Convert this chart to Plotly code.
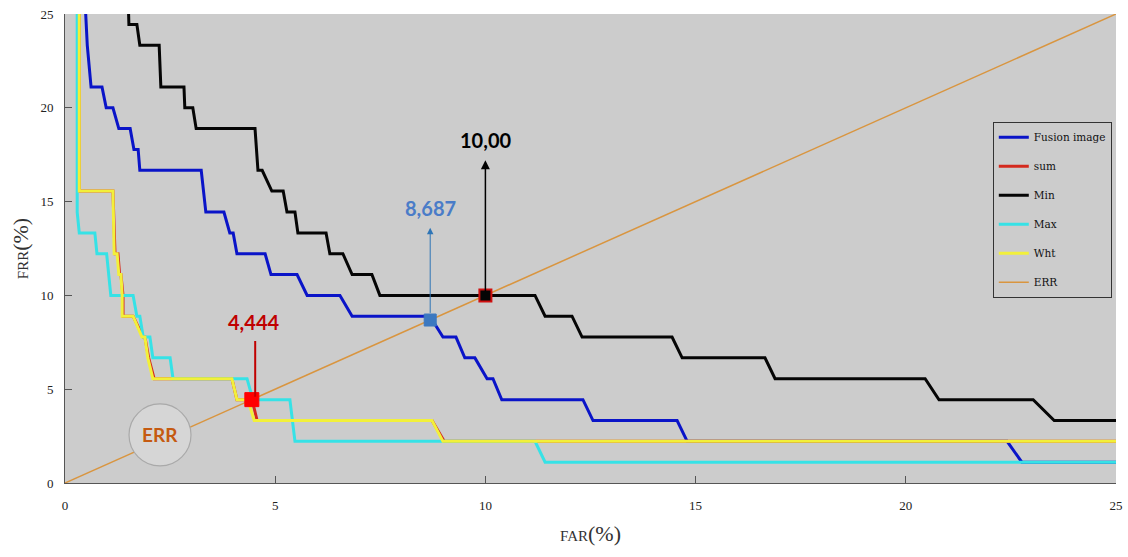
import plotly.graph_objects as go

# ---- DET curves (FAR %, FRR %) ----
fusion_far = [0.47, 0.53, 0.62, 0.88, 0.98, 1.14, 1.28, 1.55, 1.64, 1.74, 1.78, 3.24, 3.35, 3.78, 3.92, 4.0,
              4.09, 4.76, 4.90, 5.52, 5.76, 6.54, 6.83, 8.68, 8.99, 9.30, 9.51, 9.75, 10.04, 10.18, 10.39,
              12.32, 12.56, 14.56, 14.80, 22.41, 22.76, 25.0]
fusion_frr = [26.0, 23.33, 21.11, 21.11, 20.0, 20.0, 18.89, 18.89, 17.78, 17.78, 16.67, 16.67, 14.44, 14.44,
              13.33, 13.33, 12.22, 12.22, 11.11, 11.11, 10.0, 10.0, 8.89, 8.89, 7.78, 7.78, 6.67, 6.67,
              5.56, 5.56, 4.44, 4.44, 3.33, 3.33, 2.22, 2.22, 1.11, 1.11]

sum_far = [0.34, 0.34, 1.14, 1.19, 1.26, 1.30, 1.33, 1.38, 1.38, 1.62, 1.86, 1.90, 1.99, 2.12, 3.97, 4.09,
           4.45, 4.57, 8.73, 9.02, 25.0]
sum_frr = [26.0, 15.56, 15.56, 12.22, 12.22, 11.11, 11.11, 10.0, 8.89, 8.89, 7.78, 7.78, 6.67, 5.56, 5.56,
           4.44, 4.44, 3.33, 3.33, 2.22, 2.22]

min_far = [1.50, 1.52, 1.71, 1.78, 2.24, 2.28, 2.83, 2.85, 3.04, 3.12, 4.52, 4.59, 4.69, 4.92, 5.19, 5.28,
           5.47, 5.54, 6.21, 6.30, 6.61, 6.83, 7.30, 7.49, 11.18, 11.42, 12.06, 12.30, 14.44, 14.68, 16.65,
           16.89, 20.46, 20.79, 23.03, 23.53, 25.0]
min_frr = [26.0, 24.44, 24.44, 23.33, 23.33, 21.11, 21.11, 20.0, 20.0, 18.89, 18.89, 16.67, 16.67, 15.56,
           15.56, 14.44, 14.44, 13.33, 13.33, 12.22, 12.22, 11.11, 11.11, 10.0, 10.0, 8.89, 8.89, 7.78, 7.78,
           6.67, 6.67, 5.56, 5.56, 4.44, 4.44, 3.33, 3.33]

max_far = [0.29, 0.29, 0.34, 0.71, 0.76, 0.99, 1.09, 1.62, 1.71, 1.78, 1.86, 2.02, 2.09, 2.50, 2.57, 4.33,
           4.47, 5.35, 5.47, 11.18, 11.42, 25.0]
max_frr = [26.0, 14.44, 13.33, 13.33, 12.22, 12.22, 10.0, 10.0, 8.89, 8.89, 7.78, 7.78, 6.67, 6.67, 5.56,
           5.56, 4.44, 4.44, 2.22, 2.22, 1.11, 1.11]

wht_far = [0.34, 0.34, 1.14, 1.17, 1.24, 1.28, 1.33, 1.36, 1.36, 1.62, 1.83, 1.90, 1.97, 2.09, 3.97, 4.09,
           4.35, 4.50, 8.73, 8.99, 25.0]
wht_frr = [26.0, 15.56, 15.56, 12.22, 12.22, 11.11, 11.11, 10.0, 8.89, 8.89, 7.78, 7.78, 6.67, 5.56, 5.56,
           4.44, 4.44, 3.33, 3.33, 2.22, 2.22]

err_line = [0, 25]

# equal error rates marked on the chart
err_min = 10.00
err_fusion = 8.687
err_sum = 4.444
err_labels = ["10,00", "8,687", "4,444"]

x_ticks = [0, 5, 10, 15, 20, 25]
y_ticks = [0, 5, 10, 15, 20, 25]

serif = "Liberation Serif, DejaVu Serif, serif"
wide_serif = "DejaVu Serif, Liberation Serif, serif"
bold = "Lato, Open Sans, sans-serif"

fig = go.Figure()

curves = [
    ("Fusion image", fusion_far, fusion_frr, "#0A14C8", 3),
    ("sum", sum_far, sum_frr, "#D42A1E", 3),
    ("Min", min_far, min_frr, "#050505", 3),
    ("Max", max_far, max_frr, "#36E2E6", 3),
    ("Wht", wht_far, wht_frr, "#F2F03A", 3),
]
for name, xs, ys, col, w in curves:
    fig.add_trace(go.Scatter(x=xs, y=ys, mode="lines", name=name, legendgroup=name,
                             line=dict(color=col, width=w), hoverinfo="skip"))

fig.add_trace(go.Scatter(x=err_line, y=err_line, mode="lines", name="ERR", legendgroup="ERR",
                         line=dict(color="#D9953F", width=1.5), hoverinfo="skip"))

# ERR operating points
fig.add_trace(go.Scatter(x=[err_min], y=[err_min], mode="markers", showlegend=False,
                         marker=dict(symbol="square", size=12, color="#050505",
                                     line=dict(color="#D01010", width=2))))
fig.add_trace(go.Scatter(x=[err_fusion], y=[err_fusion], mode="markers", showlegend=False,
                         marker=dict(symbol="square", size=12, color="#3C78C0",
                                     line=dict(color="#3C78C0", width=1))))
fig.add_trace(go.Scatter(x=[err_sum], y=[err_sum], mode="markers", showlegend=False,
                         marker=dict(symbol="square", size=14, color="#FF0000",
                                     line=dict(color="#FF0000", width=1))))

annotations = [
    # Min
    dict(x=err_min, y=17.2, ax=err_min, ay=err_min + 0.15, xref="x", yref="y", axref="x", ayref="y",
         showarrow=True, arrowhead=2, arrowsize=1.2, arrowwidth=1.5, arrowcolor="#000000", text=""),
    dict(x=err_min, y=18.3, xref="x", yref="y", text="<b>" + err_labels[0] + "</b>", showarrow=False,
         font=dict(family=bold, size=20, color="#000000")),
    # Fusion image
    dict(x=err_fusion, y=13.6, ax=err_fusion, ay=err_fusion + 0.3, xref="x", yref="y", axref="x", ayref="y",
         showarrow=True, arrowhead=2, arrowsize=1.3, arrowwidth=1, arrowcolor="#2E75B6", text=""),
    dict(x=err_fusion, y=14.65, xref="x", yref="y", text="<b>" + err_labels[1] + "</b>", showarrow=False,
         font=dict(family=bold, size=20, color="#4A7CC8")),
    # sum / Wht
    dict(x=err_sum + 0.08, y=4.6, ax=err_sum + 0.08, ay=7.65, xref="x", yref="y", axref="x", ayref="y",
         showarrow=True, arrowhead=0, arrowwidth=2, arrowcolor="#C00000", text=""),
    dict(x=err_sum + 0.03, y=8.6, xref="x", yref="y", text="<b>" + err_labels[2] + "</b>", showarrow=False,
         font=dict(family=bold, size=20, color="#C00000")),
    # ERR badge text
    dict(x=2.26, y=2.56, xref="x", yref="y", text="<b>ERR</b>", showarrow=False,
         font=dict(family=bold, size=19, color="#C55A11")),
]

shapes = [
    dict(type="circle", xref="x", yref="y", xsizemode="pixel", ysizemode="pixel",
         xanchor=2.26, yanchor=2.56, x0=-31, x1=31, y0=-31, y1=31,
         fillcolor="#D6D6D6", line=dict(color="#A9A9A9", width=1.2), layer="above"),
]

fig.update_layout(
    width=1128, height=557,
    margin=dict(l=65, r=12, t=14, b=74),
    paper_bgcolor="#FFFFFF",
    plot_bgcolor="#CCCCCC",
    showlegend=True,
    legend=dict(x=0.996, y=0.77, xanchor="right", yanchor="top",
                bgcolor="#CCCCCC", bordercolor="#333333", borderwidth=1,
                font=dict(family=wide_serif, size=10.5, color="#111111"),
                itemwidth=30, tracegroupgap=10),
    annotations=annotations,
    shapes=shapes,
    xaxis=dict(range=[0, 25], tickvals=x_ticks, ticktext=[str(v) for v in x_ticks], automargin=False,
               showgrid=False, zeroline=False, showline=True, linecolor="#555555", linewidth=1,
               ticks="inside", ticklen=7, tickcolor="#555555", ticklabelstandoff=10,
               tickfont=dict(family=serif, size=13, color="#222222"),
               title=dict(text="FAR<span style='font-size:22px'>(%)</span>",
                          font=dict(family=serif, size=15, color="#333333"), standoff=18)),
    yaxis=dict(range=[0, 25], tickvals=y_ticks, ticktext=[str(v) for v in y_ticks], automargin=False,
               showgrid=False, zeroline=False, showline=True, linecolor="#555555", linewidth=1,
               ticks="inside", ticklen=7, tickcolor="#555555", ticklabelstandoff=8,
               tickfont=dict(family=serif, size=13, color="#222222"),
               title=dict(text="FRR<span style='font-size:22px'>(%)</span>",
                          font=dict(family=serif, size=15, color="#333333"), standoff=8)),
)

fig.write_html("out.html")
